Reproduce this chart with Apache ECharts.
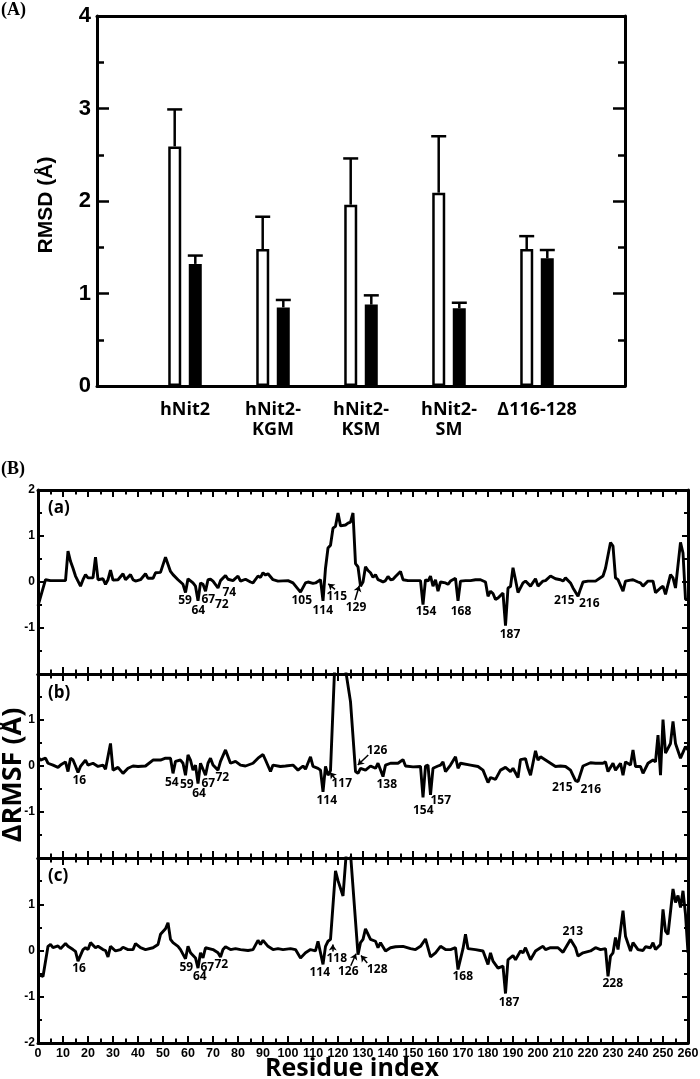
<!DOCTYPE html>
<html><head><meta charset="utf-8">
<script src="https://cdn.jsdelivr.net/npm/echarts/dist/echarts.min.js"></script>
<style>html,body{margin:0;padding:0;background:#fff}#c{width:700px;height:1079px}</style>
</head><body><div id="c"></div>
<script>
// ---------- Panel A data ----------
const groups = ['', 'hNit2', 'hNit2-\nKGM', 'hNit2-\nKSM', 'hNit2-\nSM', 'Δ116-128', ''];
const openMean = [null, 2.59, 1.48, 1.96, 2.09, 1.48, null];
const openErr  = [null, 0.40, 0.35, 0.50, 0.61, 0.14, null];
const filledMean = [null, 1.32, 0.85, 0.88, 0.84, 1.38, null];
const filledErr  = [null, 0.09, 0.08, 0.10, 0.06, 0.09, null];
const rmsdTicks = [0, 1, 2, 3, 4];

// ---------- Panel B data (residue, ΔRMSF) ----------
const resA = [0,3,5,8,11,12,13,14,15,16,17,18,19,20,22,23,24,26,27,28,29,30,32,34,35,37,38,39,41,43,44,46,47,49,51,53,54,56,58,59,60,62,63,64,65,66,67,68,69,70,72,73,75,76,78,80,81,83,85,86,88,89,90,91,92,94,96,100,102,105,107,108,110,111,113,114,115,116,117,118,119,120,121,123,124,125,126,127,128,129,130,131,132,133,134,135,136,137,138,139,140,141,142,143,145,146,148,150,153,154,155,156,157,158,159,160,161,163,164,165,167,168,169,171,173,175,177,179,180,181,182,183,184,186,187,188,189,190,191,192,194,195,197,199,200,202,203,205,207,209,210,211,213,214,216,217,218,220,223,226,227,229,230,231,232,234,235,237,238,240,241,242,244,246,247,249,250,251,253,254,255,257,258,259,260];
const valA = [-0.52,0.05,0.03,0.03,0.03,0.67,0.45,0.3,0.13,0.02,-0.09,0.05,0.16,0.09,0.09,0.54,0.05,0.07,-0.05,0.05,0.26,0.04,0.05,0.18,0.05,0.16,0.05,0.02,0.05,0.18,0.08,0.08,0.2,0.21,0.54,0.23,0.16,0.05,-0.05,-0.23,0.07,-0.02,-0.09,-0.41,-0.02,-0.05,-0.2,0.05,0.06,0.02,-0.13,0.03,0.14,0.06,0.03,0.13,0.02,0.06,0.0,-0.02,0.13,0.1,0.2,0.15,0.18,0.05,0.02,0.03,-0.02,-0.22,-0.02,0.0,-0.03,-0.02,0.05,-0.41,0.3,0.74,0.8,1.17,1.21,1.5,1.22,1.24,1.28,1.3,1.5,0.4,0.33,-0.09,0.0,0.33,0.25,0.2,0.1,0.16,0.05,0.03,0.0,0.03,0.12,0.05,0.06,0.12,0.23,0.05,0.03,0.03,0.03,-0.49,0.05,0.02,0.13,-0.09,0.05,-0.2,0.0,-0.02,-0.05,0.02,0.08,-0.41,0.02,0.03,0.03,0.05,0.05,0.0,-0.31,-0.2,-0.25,-0.38,-0.35,-0.24,-0.95,-0.13,-0.1,0.31,0.05,-0.23,-0.02,0.02,-0.09,0.07,-0.09,0.02,0.03,0.13,0.07,0.05,0.02,0.09,-0.02,-0.13,-0.31,-0.15,0.0,0.02,0.02,0.13,0.3,0.86,0.78,0.09,0.05,-0.2,0.02,0.04,0.05,0.0,-0.02,-0.09,0.02,0.02,-0.23,-0.13,-0.09,-0.27,0.16,0.09,-0.13,0.86,0.63,-0.38,-0.38];

const resB = [0,1,3,4,6,8,9,11,12,13,14,15,16,17,19,20,22,24,26,27,29,30,32,34,36,38,40,43,46,49,51,53,54,55,57,58,59,60,61,62,63,64,65,67,68,69,70,72,73,75,77,79,81,83,86,88,90,91,93,94,97,99,102,104,106,107,109,110,112,113,114,115,116,117,119,122,123,125,127,128,129,131,133,135,136,138,139,141,144,146,147,150,153,154,155,156,157,158,160,161,162,163,165,167,168,169,173,176,178,180,181,183,185,187,189,190,192,193,195,196,197,199,200,201,203,205,207,209,211,213,215,216,218,221,223,226,227,228,230,231,233,234,235,237,238,239,241,242,244,246,247,248,249,250,251,253,254,255,257,259,260];
const valB = [0.2,0.13,0.17,0.06,0.02,-0.03,0.02,0.09,-0.12,0.17,0.13,0.0,-0.14,-0.01,0.13,0.02,0.06,-0.01,0.02,-0.07,0.49,-0.09,-0.03,-0.16,-0.05,0.0,-0.01,0.0,0.13,0.13,0.17,0.17,-0.16,0.1,0.13,0.06,-0.2,0.24,0.13,-0.09,0.02,-0.38,0.06,-0.2,0.06,0.17,0.02,-0.09,0.1,0.35,0.06,0.1,0.02,0.0,0.06,0.17,0.25,0.13,-0.12,0.02,-0.01,0.0,0.02,-0.09,0.0,-0.07,0.2,-0.01,-0.05,-0.09,-0.56,-0.01,-0.2,-0.1,2.6,2.6,2.1,1.4,-0.12,-0.16,-0.05,-0.09,0.0,-0.05,0.06,-0.23,0.02,0.06,0.06,0.14,0.0,-0.02,-0.01,-0.68,0.0,0.02,-0.63,-0.05,0.0,0.02,0.09,-0.12,0.02,0.2,-0.05,0.06,0.02,-0.01,-0.09,-0.36,-0.25,-0.29,-0.09,-0.03,-0.12,-0.05,-0.25,0.14,0.16,-0.05,-0.2,0.33,0.13,0.2,0.13,0.06,-0.01,0.0,-0.01,-0.09,-0.32,-0.34,0.0,0.07,0.06,0.06,0.09,-0.12,0.06,-0.09,0.06,-0.2,0.09,0.02,0.35,-0.01,-0.01,-0.16,0.06,0.13,0.09,0.67,-0.2,1.01,0.28,0.49,0.97,0.49,0.17,0.42,0.35];

const resC = [0,2,4,5,6,8,9,11,12,14,15,16,18,19,20,21,23,24,26,27,28,29,31,33,34,36,38,39,41,43,46,48,49,51,52,53,54,56,57,59,60,61,63,64,65,66,67,70,72,73,74,75,77,79,81,84,86,88,89,90,92,94,96,98,101,103,105,107,109,111,112,114,115,116,117,119,120,122,124,125,128,129,130,131,133,135,136,137,139,141,143,146,149,151,153,155,157,159,160,161,163,165,167,168,170,171,172,175,178,180,181,182,184,186,187,188,190,191,193,194,195,197,199,201,202,203,205,208,210,213,215,216,218,221,223,225,227,228,229,230,231,232,234,235,237,238,240,242,243,245,246,247,249,250,251,252,254,255,256,257,258,259,260];
const valC = [-0.52,-0.56,0.09,0.13,0.06,0.1,0.04,0.15,0.09,0.02,-0.02,-0.23,0.02,0.06,0.02,0.17,0.06,0.09,0.02,0.0,-0.14,0.09,-0.01,0.02,0.07,0.02,0.02,0.15,0.06,0.02,0.06,0.13,0.35,0.47,0.6,0.24,0.17,0.09,0.02,-0.18,0.09,-0.05,-0.16,-0.38,-0.05,-0.16,0.06,0.02,-0.05,-0.14,0.02,0.08,0.02,0.04,0.02,0.0,0.02,0.22,0.13,0.22,0.09,0.02,0.04,0.02,0.04,0.02,-0.16,-0.05,0.02,-0.01,0.2,-0.3,0.09,0.2,0.24,1.72,1.51,1.18,2.6,2.1,-0.09,0.17,0.24,0.47,0.24,0.2,0.06,0.17,-0.01,0.06,0.08,0.09,0.04,0.02,0.09,0.25,-0.14,-0.05,0.02,0.09,0.02,0.02,0.06,-0.41,0.04,0.35,0.04,0.02,-0.01,-0.3,-0.05,-0.23,-0.38,-0.34,-0.93,-0.2,-0.11,-0.2,-0.01,-0.05,0.06,-0.2,-0.01,0.06,0.09,0.02,0.06,0.06,-0.04,0.24,0.06,-0.12,-0.05,-0.01,0.06,0.02,0.04,-0.56,-0.12,-0.05,0.28,0.02,0.86,0.31,-0.01,0.17,0.02,0.0,0.08,0.06,0.17,0.02,0.13,0.89,0.42,0.35,1.33,1.04,1.19,0.93,1.29,0.78,-0.05];

// ---------- annotations (residue labels placed in data coordinates) ----------
const annTextA = ['59','64','67','72','74','105','114','115','129','154','168','187','215','216'];
const annXA = [58.8,64.1,68.1,73.5,76.5,105.5,113.9,119.5,127.2,155.2,169.2,188.8,210.5,220.5];
const annYA = [-0.41,-0.63,-0.38,-0.5,-0.22,-0.41,-0.63,-0.31,-0.55,-0.65,-0.65,-1.14,-0.41,-0.47];
const arrowsA = [[118.8,-0.16,116.1,-0.04],[126.8,-0.39,128.5,-0.08]];

const annTextB = ['16','54','59','64','67','72','114','117','126','138','154','157','215','216'];
const annXB = [16.5,53.5,59.5,64.4,68.1,73.7,115.5,121.5,135.6,139.5,154.1,161.1,209.7,221.1];
const annYB = [-0.32,-0.36,-0.4,-0.61,-0.39,-0.25,-0.75,-0.39,0.33,-0.41,-0.97,-0.75,-0.46,-0.52];
const arrowsB = [[118.8,-0.27,116.8,-0.14],[132.1,0.24,127.9,0.02]];

const annTextC = ['16','59','64','67','72','114','118','126','128','168','187','213','228'];
const annXC = [16.4,59.3,64.7,67.7,73.3,112.7,119.5,124.1,135.7,169.9,188.4,213.9,229.9];
const annYC = [-0.39,-0.36,-0.56,-0.36,-0.3,-0.47,-0.18,-0.45,-0.41,-0.56,-1.12,0.4,-0.72];
const arrowsC = [[117.9,-0.02,117.9,0.13],[125.1,-0.33,127.2,-0.07],[131.7,-0.27,129.2,-0.11]];

const hideY = [[-2], [2, -2], [2]];

// ---------- build ----------
const chart = echarts.init(document.getElementById('c'), null, {renderer: 'canvas'});
const BLK = '#000';
const LAB = 'Liberation Sans';
const OS = 'Open Sans';

const grids = [
  {left: 97, top: 16, width: 528, height: 370, outerBoundsMode: 'none', containLabel: false},
  {left: 38, top: 490, width: 650, height: 184, outerBoundsMode: 'none', containLabel: false},
  {left: 38, top: 674, width: 650, height: 184, outerBoundsMode: 'none', containLabel: false},
  {left: 38, top: 858, width: 650, height: 185, outerBoundsMode: 'none', containLabel: false}
];

const xAxes = [
  {type: 'category', gridIndex: 0, position: 'bottom', data: groups, boundaryGap: false,
   axisLine: {show: true, onZero: false, lineStyle: {color: BLK, width: 3}},
   axisTick: {show: false}, splitLine: {show: false},
   axisLabel: {interval: 0, margin: 14, color: BLK, fontFamily: OS, fontWeight: 'bold', fontSize: 18, lineHeight: 20}},
  {type: 'value', gridIndex: 0, position: 'top', min: 0, max: 1,
   axisLine: {show: true, onZero: false, lineStyle: {color: BLK, width: 3}},
   axisTick: {show: false}, axisLabel: {show: false}, splitLine: {show: false}}
];
function resAxis(g, pos, labels) {
  return {type: 'value', gridIndex: g, position: pos, min: 0, max: 260, interval: 10,
    axisLine: {show: true, onZero: false, lineStyle: {color: BLK, width: 3}},
    axisTick: {show: true, inside: true, length: 7, lineStyle: {color: BLK, width: 2}},
    minorTick: {show: true, splitNumber: 2, length: 4.5, lineStyle: {color: BLK, width: 2}},
    splitLine: {show: false}, minorSplitLine: {show: false},
    axisLabel: {show: labels, margin: 4, color: BLK, fontFamily: LAB, fontWeight: 'bold', fontSize: 12.5,
      showMinLabel: true, showMaxLabel: true, hideOverlap: false}};
}
for (let p = 0; p < 3; p++) {
  xAxes.push(resAxis(p + 1, 'bottom', p === 2));
  xAxes.push(resAxis(p + 1, 'top', false));
}

const yAxes = [];
function rmsdAxis(pos, labels) {
  return {type: 'value', gridIndex: 0, position: pos, min: rmsdTicks[0], max: rmsdTicks[rmsdTicks.length - 1], interval: 1,
    axisLine: {show: true, onZero: false, lineStyle: {color: BLK, width: 3}},
    axisTick: {show: true, inside: true, length: 12, lineStyle: {color: BLK, width: 2.5}},
    minorTick: {show: true, splitNumber: 2, length: 7, lineStyle: {color: BLK, width: 2.5}},
    splitLine: {show: false}, minorSplitLine: {show: false},
    axisLabel: {show: labels, margin: 6, color: BLK, fontFamily: LAB, fontWeight: 'bold', fontSize: 22}};
}
yAxes.push(rmsdAxis('left', true));
yAxes.push(rmsdAxis('right', false));
function rmsfAxis(g, pos, labels, hide) {
  return {type: 'value', gridIndex: g, position: pos, min: -2, max: 2, interval: 1,
    axisLine: {show: true, onZero: false, lineStyle: {color: BLK, width: 3}},
    axisTick: {show: true, inside: true, length: 6, lineStyle: {color: BLK, width: 2}},
    minorTick: {show: true, splitNumber: 2, length: 4, lineStyle: {color: BLK, width: 2}},
    splitLine: {show: false}, minorSplitLine: {show: false},
    axisLabel: {show: labels, margin: 3, color: BLK, fontFamily: LAB, fontWeight: 'bold', fontSize: 12,
      showMinLabel: true, showMaxLabel: true,
      formatter: v => (hide.indexOf(v) >= 0 ? '' : String(v))}};
}
for (let p = 0; p < 3; p++) {
  yAxes.push(rmsfAxis(p + 1, 'left', true, hideY[p]));
  yAxes.push(rmsfAxis(p + 1, 'right', false, []));
}

function errRender(offset) {
  return function (params, api) {
    const x = api.value(0), m = api.value(1), u = api.value(2);
    const p0 = api.coord([x, m]);
    const p1 = api.coord([x, u]);
    const cx = p0[0] + offset;
    return {type: 'group', children: [
      {type: 'line', shape: {x1: cx, y1: p0[1], x2: cx, y2: p1[1]}, style: {stroke: BLK, lineWidth: 2.5}},
      {type: 'line', shape: {x1: cx - 7.5, y1: p1[1], x2: cx + 7.5, y2: p1[1]}, style: {stroke: BLK, lineWidth: 2.5}}
    ]};
  };
}
function errData(mean, err) {
  const out = [];
  mean.forEach((m, i) => { if (m !== null) out.push([i, m, m + err[i]]); });
  return out;
}

const series = [
  {type: 'bar', xAxisIndex: 0, yAxisIndex: 0, data: openMean, barWidth: 13,
   itemStyle: {color: '#fff', borderColor: BLK, borderWidth: 2.5}, silent: true, z: 2},
  {type: 'bar', xAxisIndex: 0, yAxisIndex: 0, data: filledMean, barWidth: 13, barGap: '58%',
   itemStyle: {color: BLK, borderColor: BLK, borderWidth: 2.5}, silent: true, z: 2},
  {type: 'custom', xAxisIndex: 0, yAxisIndex: 0, renderItem: errRender(-10.3), data: errData(openMean, openErr), z: 3, silent: true},
  {type: 'custom', xAxisIndex: 0, yAxisIndex: 0, renderItem: errRender(10.3), data: errData(filledMean, filledErr), z: 3, silent: true}
];

const panels = [
  [resA, valA, annTextA, annXA, annYA, arrowsA],
  [resB, valB, annTextB, annXB, annYB, arrowsB],
  [resC, valC, annTextC, annXC, annYC, arrowsC]
];
panels.forEach((pd, p) => {
  const [res, val, txt, ax, ay, arr] = pd;
  const xi = 2 + 2 * p, yi = 2 + 2 * p;
  series.push({type: 'line', xAxisIndex: xi, yAxisIndex: yi, data: res.map((r, i) => [r, val[i]]),
    showSymbol: false, symbol: 'none', clip: true, silent: true,
    lineStyle: {color: BLK, width: 2.9}, z: 2});
  series.push({type: 'custom', xAxisIndex: xi, yAxisIndex: yi, silent: true, z: 4,
    data: ax.map((x, i) => [x, ay[i]]),
    renderItem: (params, api) => {
      const c = api.coord([api.value(0), api.value(1)]);
      return {type: 'text', x: c[0], y: c[1], style: {text: txt[params.dataIndex], fill: BLK,
        font: 'bold 12px "Open Sans"', align: 'center', verticalAlign: 'middle',
        textAlign: 'center', textVerticalAlign: 'middle'}};
    }});
  series.push({type: 'lines', coordinateSystem: 'cartesian2d', xAxisIndex: xi, yAxisIndex: yi, silent: true, z: 4,
    symbol: ['none', 'arrow'], symbolSize: 6,
    lineStyle: {color: BLK, width: 1.5, opacity: 1, curveness: 0},
    data: arr.map(a => ({coords: [[a[0], a[1]], [a[2], a[3]]]}))});
});

function txt(text, x, y, font, rot, align, valign) {
  return {type: 'text', x: x, y: y, rotation: rot || 0, silent: true,
    style: {text: text, font: font, fill: BLK, align: align || 'left', verticalAlign: valign || 'top',
      textAlign: align || 'left', textVerticalAlign: valign || 'top'}};
}

chart.setOption({
  animation: false,
  backgroundColor: '#fff',
  grid: grids,
  xAxis: xAxes,
  yAxis: yAxes,
  series: series,
  graphic: [
    txt('(A)', 1, 1, 'bold 18px "Liberation Serif"'),
    txt('(B)', 1, 460, 'bold 18px "Liberation Serif"'),
    txt('RMSD (Å)', 46, 205, 'bold 21px "Liberation Sans"', Math.PI / 2, 'center', 'middle'),
    txt('ΔRMSF (Å)', 13, 775, 'bold 27px "Open Sans"', Math.PI / 2, 'center', 'middle'),
    txt('Residue index', 352, 1069, 'bold 25px "Open Sans"', 0, 'center', 'middle'),
    txt('(a)', 48, 500, 'bold 17px "Open Sans"'),
    txt('(b)', 48, 685, 'bold 17px "Open Sans"'),
    txt('(c)', 48, 868, 'bold 17px "Open Sans"')
  ]
});
</script>
</body></html>
